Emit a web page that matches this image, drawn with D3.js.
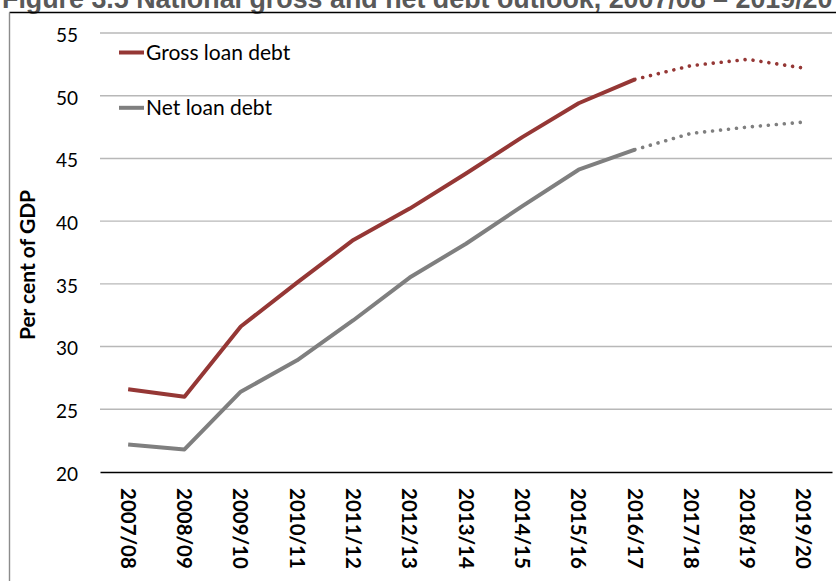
<!DOCTYPE html>
<html>
<head>
<meta charset="utf-8">
<script src="https://cdn.jsdelivr.net/npm/d3@7"></script>
<style>
  body { margin: 0; background: #fff; }
  svg { display: block; }
</style>
</head>
<body>
<svg width="836" height="581"></svg>
<script>
// values (per cent of GDP)
var years = ["2007/08", "2008/09", "2009/10", "2010/11", "2011/12", "2012/13", "2013/14",
             "2014/15", "2015/16", "2016/17", "2017/18", "2018/19", "2019/20"];
var gross = [26.6, 26.0, 31.6, 35.1, 38.5, 41.0, 43.8, 46.7, 49.4, 51.3, 52.4, 52.9, 52.2];
var net   = [22.2, 21.8, 26.4, 28.9, 32.1, 35.5, 38.2, 41.2, 44.1, 45.7, 47.0, 47.5, 47.9];
var lastActual = "2016/17";   // after this the lines are forecasts (dotted)
var yTicks = [20, 25, 30, 35, 40, 45, 50, 55];
var seriesNames = ["Gross loan debt", "Net loan debt"];
var seriesColors = ["#953735", "#7f7f7f"];

var svg = d3.select("svg"),
    margin = {top: 33, right: 4, bottom: 109, left: 100},
    width = +svg.attr("width") - margin.left - margin.right,
    height = +svg.attr("height") - margin.top - margin.bottom;

var x = d3.scaleBand().domain(years).range([0, width]),
    y = d3.scaleLinear().domain([20, 55]).range([height, 0]);

// title, clipped at the top of the page like the source
var title = svg.append("text")
    .attr("x", 2).attr("y", 7.5)
    .style("font-family", "'Liberation Sans', Arial, sans-serif")
    .style("font-weight", "bold")
    .style("font-size", "20px")
    .style("fill", "#595959")
    .text("Figure 3.5 National gross and net debt outlook, 2007/08 \u2013 2019/20");
var tl = title.node().getComputedTextLength();
title.style("font-size", (20 * 831 / tl) + "px");

// frame
svg.append("line").attr("x1", 9.5).attr("x2", 836).attr("y1", 12.5).attr("y2", 12.5)
    .style("stroke", "#000").style("stroke-width", 1.4);
svg.append("line").attr("x1", 9.5).attr("x2", 9.5).attr("y1", 12.5).attr("y2", 581)
    .style("stroke", "#8c8c8c").style("stroke-width", 1.4);

var g = svg.append("g")
    .attr("transform", "translate(" + margin.left + "," + margin.top + ")");

// gridlines
g.append("g")
    .selectAll("line")
    .data(yTicks.filter(function(d) { return d > 20; }))
  .enter().append("line")
    .attr("x1", 0).attr("x2", width)
    .attr("y1", function(d) { return y(d); })
    .attr("y2", function(d) { return y(d); })
    .style("stroke", "#b8b8b8")
    .style("stroke-width", 1.4);

// y axis labels
var yAxis = g.append("g")
    .call(d3.axisLeft(y).tickValues(yTicks).tickSize(0).tickPadding(22));
yAxis.select(".domain").remove();
yAxis.selectAll("text")
    .attr("dy", "0.44em")
    .style("font-family", "Lato, sans-serif")
    .style("font-size", "19px")
    .style("fill", "#000");

// x axis
var xAxis = g.append("g")
    .attr("transform", "translate(0," + height + ")")
    .call(d3.axisBottom(x).tickSize(0).tickPadding(0));
xAxis.select(".domain")
    .style("stroke", "#000").style("stroke-width", 1.6);
xAxis.selectAll("text")
    .attr("transform", "translate(0,16) rotate(90)")
    .attr("x", 0).attr("y", 0)
    .attr("dy", "0.36em")
    .style("text-anchor", "start")
    .style("font-family", "Lato, sans-serif")
    .style("font-weight", "bold")
    .style("font-size", "20.5px")
    .style("fill", "#000");

// y axis title
svg.append("text")
    .attr("transform", "translate(35,265) rotate(-90)")
    .style("text-anchor", "middle")
    .style("font-family", "Lato, sans-serif")
    .style("font-weight", "bold")
    .style("font-size", "21px")
    .text("Per cent of GDP");

var line = d3.line()
    .x(function(d) { return x(d.year) + x.bandwidth() / 2; })
    .y(function(d) { return y(d.value); });

var cut = years.indexOf(lastActual);

[gross, net].forEach(function(vals, k) {
  var pts = years.map(function(yr, i) { return {year: yr, value: vals[i]}; });
  g.append("path")
      .datum(pts.slice(0, cut + 1))
      .attr("d", line)
      .style("fill", "none")
      .style("stroke", seriesColors[k])
      .style("stroke-width", 4)
      .style("stroke-linejoin", "round");
  g.append("path")
      .datum(pts.slice(cut))
      .attr("d", line)
      .style("fill", "none")
      .style("stroke", seriesColors[k])
      .style("stroke-width", 3.6)
      .style("stroke-linecap", "round")
      .style("stroke-dasharray", "0.01 8");
});

// legend
var legend = svg.append("g").selectAll("g")
    .data(seriesNames)
  .enter().append("g")
    .attr("transform", function(d, i) { return "translate(119," + (52.5 + i * 55.3) + ")"; });
legend.append("line")
    .attr("x1", 0).attr("x2", 25)
    .style("stroke", function(d, i) { return seriesColors[i]; })
    .style("stroke-width", 4);
legend.append("text")
    .attr("x", 27).attr("y", 7)
    .style("font-family", "Lato, sans-serif")
    .style("font-size", "21px")
    .style("fill", "#000")
    .text(function(d) { return d; });
</script>
</body>
</html>
